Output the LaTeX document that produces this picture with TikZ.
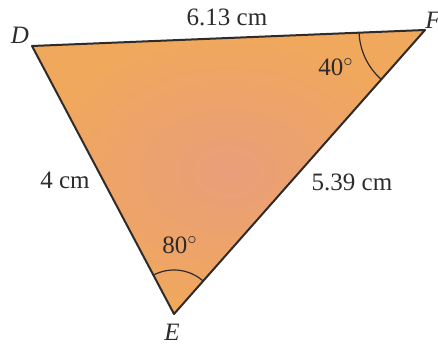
\documentclass[tikz,border=0pt]{standalone}
\usepackage{fontspec}
\setmainfont{Liberation Serif}
\usepackage{tikz}
\usetikzlibrary{angles,positioning}
\definecolor{ink}{HTML}{2E2B2A}
\definecolor{face}{HTML}{F0A85C}
\definecolor{facemid}{HTML}{EA9E7A}
\tikzset{
  side/.style={ink,line width=1pt,line join=round},
  lbl/.style={ink,inner sep=0pt},
  vtx/.style={ink,inner sep=0pt,font=\fontsize{12.5}{14}\selectfont\itshape},
  arcmark/.style={draw=ink,line width=0.6pt}
}
\begin{document}
\begin{tikzpicture}[x=0.5pt,y=0.5pt,font=\fontsize{12.5}{14}\selectfont]
\useasboundingbox (0,0) rectangle (438,346);
% vertices
\coordinate (D) at (32,300);
\coordinate (F) at (425,316);
\coordinate (E) at (174,32);
% triangle
\shade[inner color=facemid,outer color=face] (D) -- (F) -- (E) -- cycle;
\draw[side] (D) -- (F) -- (E) -- cycle;
% angle marks
\pic[arcmark,angle radius=33pt] {angle=D--F--E};
\pic[arcmark,angle radius=22pt] {angle=F--E--D};
% vertex names
\node[vtx] (nD) at (20,311) {D};
\node[vtx] (nF) at (433,326) {F};
\node[vtx] (nE) at (172,14) {E};
% sides and angles
\node[lbl] (sDF) at (227,329) {6.13 cm};
\node[lbl] (sDE) at (65,166) {4 cm};
\node[lbl] (sEF) at (352,164) {5.39 cm};
\node[lbl] (aF) at (336,279) {40$^{\circ}$};
\node[lbl] (aE) at (180,101) {80$^{\circ}$};
\end{tikzpicture}
\end{document}
